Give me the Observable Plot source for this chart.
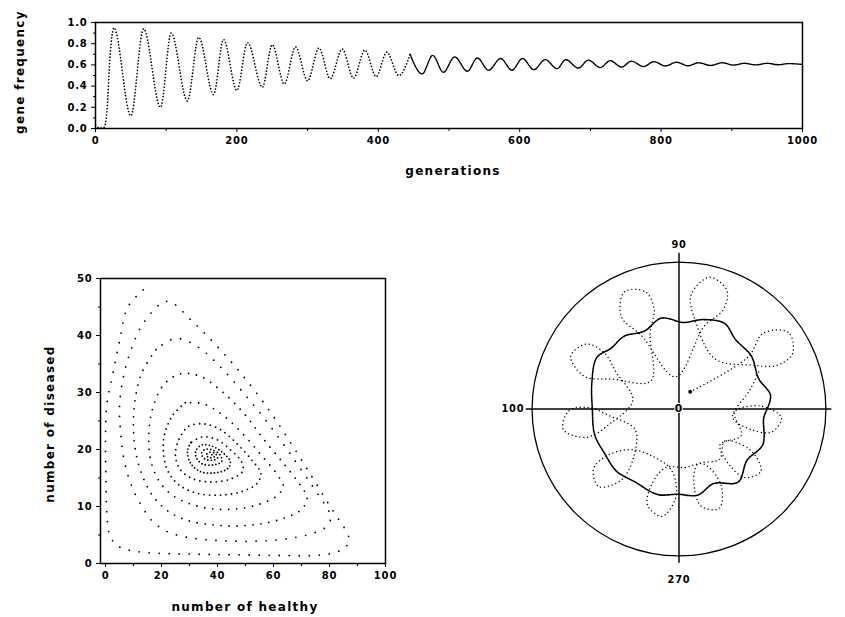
<!DOCTYPE html>
<html><head><meta charset="utf-8">
<script src="https://cdn.jsdelivr.net/npm/d3@7"></script>
<script src="https://cdn.jsdelivr.net/npm/@observablehq/plot@0.6"></script>
<style>
html,body{margin:0;padding:0;background:#fff;}
body{width:845px;height:617px;overflow:hidden;position:relative;font-family:"DejaVu Sans",sans-serif;}
.p{position:absolute;}
.p svg{overflow:visible !important;}
.lbl{position:absolute;font-weight:bold;font-size:12px;letter-spacing:1.3px;color:#000;white-space:nowrap;transform:translate(-50%,-50%);}
.rot{transform:translate(-50%,-50%) rotate(-90deg);}
svg text{letter-spacing:0.8px;}
</style></head><body>
<div id="top" class="p" style="left:0;top:0"></div>
<div id="scatter" class="p" style="left:0;top:266px"></div>
<div id="polar" class="p" style="left:512px;top:242px"></div>
<div class="lbl rot" style="left:20px;top:72px">gene frequency</div>
<div class="lbl" style="left:453px;top:171px">generations</div>
<div class="lbl rot" style="left:50px;top:424px">number of diseased</div>
<div class="lbl" style="left:245px;top:607px">number of healthy</div>
<script>
// ---------- top panel: gene frequency over generations (extremes) ----------
const topGen  = [0, 6, 12, 16, 21, 26, 50, 68, 92, 107, 130, 146, 167, 181, 200, 215, 236, 250, 267, 283, 300, 316, 332, 349, 365, 381, 397, 412, 429, 445, 462, 477, 492, 508, 526, 540, 556, 573, 589, 604, 620, 636, 653, 665, 683, 697, 714, 728, 744, 758, 775, 790, 806, 822, 838, 853, 870, 887, 902, 918, 934, 950, 966, 980, 1000];
const topFreq = [0.03, 0.005, 0.01, 0.15, 0.72, 0.95, 0.12, 0.94, 0.20, 0.90, 0.26, 0.86, 0.32, 0.84, 0.36, 0.81, 0.39, 0.79, 0.42, 0.77, 0.45, 0.76, 0.47, 0.75, 0.475, 0.74, 0.49, 0.72, 0.50, 0.70, 0.515, 0.69, 0.53, 0.675, 0.54, 0.665, 0.55, 0.66, 0.55, 0.66, 0.555, 0.65, 0.565, 0.65, 0.57, 0.645, 0.575, 0.64, 0.58, 0.635, 0.585, 0.63, 0.59, 0.625, 0.592, 0.62, 0.595, 0.62, 0.598, 0.615, 0.60, 0.615, 0.602, 0.612, 0.605];
const topXTicks = [0, 200, 400, 600, 800, 1000];
const topXMinor = [100, 300, 500, 700, 900];
const topYTicks = [0, 0.2, 0.4, 0.6, 0.8, 1.0];
const topYMinor = [0.1, 0.3, 0.5, 0.7, 0.9];

// ---------- bottom-left: healthy vs diseased trajectory (spiral vertices) ----------
const healthy = [13.5, 8, 5, 2.5, 0.5, 0, 0.2, 0.5, 1.5, 4, 8, 15, 25, 37, 50, 63, 74, 81, 85, 87, 86.5, 84, 80, 74, 67, 59, 49, 40, 31, 22,
  14, 9.5, 6.5, 5, 5.5, 6.5, 8, 10, 13, 17, 22, 29, 38, 48, 58, 67, 74, 79, 80.5, 78.5, 74, 67, 59, 50, 41, 33, 25,
  18, 13, 10.5, 10, 11, 13.5, 17, 22, 29, 38, 47, 56, 64, 70, 72, 69.5, 64, 57, 50, 42, 34, 27,
  21, 17, 15.5, 16, 18.5, 23, 30, 38, 47, 55, 61, 63.5, 61.5, 56, 49.5, 42, 35, 28.5,
  24, 21, 20.8, 22.5, 26.5, 33, 41, 48.5, 54, 55.5, 52.5, 47, 41, 35, 29.5,
  26, 25, 27, 31.5, 38, 44.5, 49, 48.5, 44.5, 39.5, 34.5, 30.5,
  29.3, 30.5, 34, 39, 43.5, 44.6, 42, 38, 34.5, 32.3,
  32.4, 34.5, 38.5, 41.5, 41, 38.3, 35.5, 34.3,
  35.3, 38, 40, 39.2, 37, 36,
  37, 38.8, 38.2, 37.5];
const diseased = [48, 45, 39, 33, 28, 22, 14, 8.5, 5, 3.2, 2.4, 1.9, 1.7, 1.6, 1.5, 1.4, 1.4, 1.8, 2.6, 3.8, 5.2, 7.2, 10.2, 15, 20.5, 26.5, 33, 38, 42.5, 46,
  42.5, 38, 33, 27.5, 22.5, 18.5, 15.5, 12.8, 10, 7.3, 5.6, 4.6, 4.1, 3.9, 4, 4.5, 5.3, 6.5, 8.2, 10.2, 13.5, 18.5, 24, 29.5, 34.5, 38, 39.5,
  37.5, 33.5, 28.5, 23.5, 19, 15, 11.8, 9.3, 7.6, 6.8, 6.6, 7, 8, 9.5, 11.5, 13.8, 17.3, 21.5, 26, 30, 32.8, 33.3,
  31.5, 27.5, 23, 18.5, 15, 12.3, 10.5, 9.6, 9.6, 10.4, 11.8, 13.5, 15.5, 18.8, 22.5, 26, 28, 28.2,
  26, 22.5, 19, 16, 13.7, 12.3, 12, 12.6, 14, 15.8, 18, 21, 23.5, 24.5, 24,
  21.5, 18.7, 16.3, 14.8, 14.3, 14.8, 16.2, 17.9, 20, 21.8, 22.2, 21.2,
  19.8, 17.5, 16.1, 15.9, 16.6, 17.8, 19.4, 20.6, 20.8, 19.8,
  18.6, 17.5, 17.3, 17.9, 19, 19.9, 20, 19.3,
  18.4, 18.1, 18.5, 19.3, 19.5, 19,
  18.6, 18.7, 19.1, 19.0];
const scXTicks = [0, 20, 40, 60, 80, 100];
const scXMinor = [10, 30, 50, 70, 90];
const scYTicks = [0, 10, 20, 30, 40, 50];
const scYMinor = [5, 15, 25, 35, 45];

// ---------- bottom-right: polar plot (angle in degrees, radius relative to circle) ----------
const rosetteAngle  = [57, 37, 42, 35, 26, 24, 31, 54, 79, 84, 77, 68, 66, 73, 96, 117, 122, 115, 106, 104, 111, 135, 156, 161, 154, 145, 143, 150, 169, 192, 197, 190, 181, 179, 186, 205, 226, 231, 224, 215, 213, 220, 239, 263, 268, 261, 252, 250, 257, 276, 294, 299, 292, 283, 281, 288, 309, 325, 330, 323, 314, 312, 319, 337, 357, 362, 355, 346, 344, 351, 375, 385];
const rosetteRadius = [0.14, 0.59, 0.77, 0.91, 0.86, 0.73, 0.58, 0.42, 0.60, 0.78, 0.92, 0.87, 0.74, 0.59, 0.22, 0.56, 0.74, 0.88, 0.83, 0.70, 0.55, 0.27, 0.50, 0.68, 0.82, 0.77, 0.64, 0.49, 0.32, 0.48, 0.66, 0.80, 0.75, 0.62, 0.47, 0.33, 0.44, 0.62, 0.76, 0.71, 0.58, 0.43, 0.37, 0.42, 0.60, 0.74, 0.69, 0.56, 0.41, 0.40, 0.41, 0.59, 0.73, 0.68, 0.55, 0.40, 0.44, 0.38, 0.56, 0.70, 0.65, 0.52, 0.37, 0.46, 0.38, 0.56, 0.70, 0.65, 0.52, 0.37, 0.50, 0.60];
const ringAngle  = [0, 8.6, 21, 36, 51, 62, 75, 87, 101, 114, 127, 138, 148, 163, 180, 197, 211, 225, 239, 256, 269, 282, 295, 309, 323, 337, 354, 360];
const ringRadius = [0.60, 0.63, 0.58, 0.61, 0.61, 0.66, 0.63, 0.59, 0.63, 0.58, 0.62, 0.62, 0.66, 0.62, 0.59, 0.60, 0.59, 0.60, 0.58, 0.60, 0.58, 0.60, 0.56, 0.64, 0.58, 0.62, 0.58, 0.60];
const polarLabels = ["90", "100", "270", "0"];

const font = {fontFamily: "DejaVu Sans", fontSize: "10px", fontWeight: "bold", background: "transparent", color: "#000", overflow: "visible"};
const blank = () => "";

// top panel
const topData = topGen.map((g, i) => ({g, f: topFreq[i]}));
document.getElementById("top").append(Plot.plot({
  width: 845, height: 160, marginLeft: 95, marginRight: 43, marginTop: 22, marginBottom: 32,
  style: font,
  x: {domain: [0, 1000]}, y: {domain: [0, 1]},
  marks: [
    Plot.frame({stroke: "#000", strokeWidth: 1.5}),
    Plot.axisX(topXTicks, {tickSize: 4, tickPadding: 4, tickFormat: d => String(d), label: null}),
    Plot.axisX(topXMinor, {tickSize: 3, tickFormat: blank, label: null}),
    Plot.axisY(topYTicks, {tickSize: 4, tickPadding: 4, tickFormat: d => d.toFixed(1), label: null}),
    Plot.axisY(topYMinor, {tickSize: 2, tickFormat: blank, label: null}),
    Plot.line(topData.filter(d => d.g <= 445), {x: "g", y: "f", curve: "monotone-x", stroke: "#000", strokeWidth: 1.7, strokeDasharray: "0,3.2", strokeLinecap: "round"}),
    Plot.line(topData.filter(d => d.g >= 445), {x: "g", y: "f", curve: "monotone-x", stroke: "#000", strokeWidth: 1.4, strokeDasharray: "1.6,0.9"})
  ]
}));

// scatter panel
const traj = healthy.map((h, i) => ({h, d: diseased[i], i}));
const loopStyle = {x: "h", y: "d", curve: "catmull-rom", stroke: "#000", strokeWidth: 1.8, strokeLinecap: "round"};
document.getElementById("scatter").append(Plot.plot({
  width: 400, height: 320, marginLeft: 100, marginRight: 15, marginTop: 12, marginBottom: 23, insetLeft: 5,
  style: font,
  x: {domain: [0, 100]}, y: {domain: [0, 50]},
  marks: [
    Plot.frame({stroke: "#000", strokeWidth: 1.5}),
    Plot.axisX(scXTicks, {tickSize: 4, tickPadding: 4, tickFormat: d => String(d), label: null}),
    Plot.axisX(scXMinor, {tickSize: 3, tickFormat: blank, label: null}),
    Plot.axisY(scYTicks, {tickSize: 4, tickPadding: 4, tickFormat: d => String(d), label: null}),
    Plot.axisY(scYMinor, {tickSize: 2, tickFormat: blank, label: null}),
    Plot.line(traj.filter(d => d.i <= 57), {...loopStyle, strokeDasharray: "0,10"}),
    Plot.line(traj.filter(d => d.i >= 57 && d.i <= 96), {...loopStyle, strokeDasharray: "0,8"}),
    Plot.line(traj.filter(d => d.i >= 96 && d.i <= 123), {...loopStyle, strokeDasharray: "0,5.5"}),
    Plot.line(traj.filter(d => d.i >= 123), {...loopStyle, strokeDasharray: "0,3.5"})
  ]
}));

// polar panel
const toXY = (ang, rad) => ang.map((a, i) => ({x: rad[i] * Math.cos(a * Math.PI / 180), y: rad[i] * Math.sin(a * Math.PI / 180)}));
const rosette = toXY(rosetteAngle, rosetteRadius);
const ring = toXY(ringAngle, ringRadius);
document.getElementById("polar").append(Plot.plot({
  width: 340, height: 340, marginLeft: 20, marginRight: 20, marginTop: 20, marginBottom: 20,
  style: font,
  x: {domain: [-1, 1], axis: null}, y: {domain: [-1, 1], axis: null},
  marks: [
    Plot.dot([{x: 0, y: 0}], {x: "x", y: "y", r: 150, stroke: "#000", strokeWidth: 1.3, fill: "none"}),
    Plot.ruleY([0], {x1: -1.04, x2: 1.04, stroke: "#000", strokeWidth: 1.5}),
    Plot.ruleX([0], {y1: -1.05, y2: 1.06, stroke: "#000", strokeWidth: 1.5}),
    Plot.line(rosette, {x: "x", y: "y", curve: "catmull-rom", stroke: "#000", strokeWidth: 1.5, strokeDasharray: "0,4", strokeLinecap: "round"}),
    Plot.line(ring, {x: "x", y: "y", curve: "catmull-rom", stroke: "#000", strokeWidth: 1.6, strokeDasharray: "2.4,1"}),
    Plot.dot(rosette.slice(0, 1), {x: "x", y: "y", r: 2, fill: "#000"}),
    Plot.text([polarLabels[0]], {x: 0, y: 1.12, text: d => d, fontWeight: "bold", fontSize: 10}),
    Plot.text([polarLabels[1]], {x: -1.04, y: 0, text: d => d, textAnchor: "end", dx: -2, fontWeight: "bold", fontSize: 10}),
    Plot.text([polarLabels[2]], {x: 0, y: -1.16, text: d => d, fontWeight: "bold", fontSize: 10}),
    Plot.text([polarLabels[3]], {x: 0, y: 0, text: d => d, fontWeight: "bold", fontSize: 11, stroke: "#fff", strokeWidth: 2, fill: "#000"})
  ]
}));
</script>
</body></html>
